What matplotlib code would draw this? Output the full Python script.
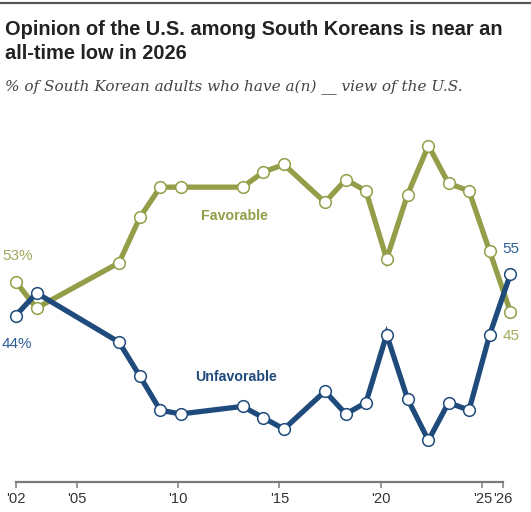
import matplotlib
matplotlib.use("Agg")
import matplotlib.pyplot as plt
from matplotlib.lines import Line2D

# ---- data ----
years = [2002, 2003, 2007, 2008, 2009, 2010, 2013, 2014, 2015, 2017,
         2018, 2019, 2020, 2021, 2022, 2023, 2024, 2025, 2026]
# survey timing within each year (fraction of year), as placed on the chart
survey_offset = [0.0, 0.03, 0.09, 0.12, 0.12, 0.13, 0.18, 0.20, 0.22, 0.24,
                 0.27, 0.26, 0.28, 0.31, 0.34, 0.33, 0.34, 0.36, 0.38]
favorable = [53, 46, 58, 70, 78, 78, 78, 82, 84, 74, 80, 77, 59, 76, 89, 79, 77, 61, 45]
unfavorable = [44, 50, 37, 28, 19, 18, 20, 17, 14, 24, 18, 21, 39, 22, 11, 21, 19, 39, 55]
tick_years = [2002, 2005, 2010, 2015, 2020, 2025, 2026]
tick_labels = ["'02", "'05", "'10", "'15", "'20", "'25", "'26"]

title = "Opinion of the U.S. among South Koreans is near an\nall-time low in 2026"
subtitle = "% of South Korean adults who have a(n) __ view of the U.S."

FAV = "#949D48"
UNF = "#1F4A7C"
FAV_TXT = "#A3A85A"
UNF_TXT = "#2E5E96"

W, H = 531, 512
fig = plt.figure(figsize=(W / 100, H / 100), dpi=100)
fig.patch.set_facecolor("white")

# top rule
fig.add_artist(Line2D([0, 1], [1 - 3 / H, 1 - 3 / H], transform=fig.transFigure,
                      color="#555555", linewidth=1.6))

fig.text(5 / W, 1 - 20 / H, title, ha="left", va="top", fontsize=14.4,
         fontweight="bold", color="#222222", family="Liberation Sans",
         linespacing=1.33)
fig.text(5 / W, 1 - 80 / H, subtitle, ha="left", va="top", fontsize=11.0,
         style="italic", color="#444444", family="DejaVu Serif")

left_px, right_px = 15.7, 502.7
bottom_px, top_px = 482, 104
ax = fig.add_axes([left_px / W, (H - bottom_px) / H,
                   (right_px - left_px) / W, (bottom_px - top_px) / H])
ax.set_xlim(2002, 2026)
ax.set_ylim(0, 100)

xs = [y + o for y, o in zip(years, survey_offset)]

ax.plot(xs, favorable, color=FAV, linewidth=3.8, marker="o", markersize=8.4,
        markerfacecolor="white", markeredgecolor=FAV, markeredgewidth=1.1,
        clip_on=False, zorder=3, solid_joinstyle="miter")
ax.plot(xs, unfavorable, color=UNF, linewidth=3.8, marker="o", markersize=8.4,
        markerfacecolor="white", markeredgecolor=UNF, markeredgewidth=1.1,
        clip_on=False, zorder=4, solid_joinstyle="miter")

# series labels
ax.text(2012.8, 70.4, "Favorable", color=FAV, fontsize=10.2, fontweight="bold",
        ha="center", va="center", family="Liberation Sans")
ax.text(2012.85, 27.8, "Unfavorable", color=UNF, fontsize=10.2, fontweight="bold",
        ha="center", va="center", family="Liberation Sans")

# end labels
ax.text(2001.33, favorable[0] + 6.9, f"{favorable[0]}%", color=FAV_TXT, fontsize=11,
        ha="left", va="center", family="Liberation Sans", clip_on=False)
ax.text(2001.33, unfavorable[0] - 7.5, f"{unfavorable[0]}%", color=UNF_TXT, fontsize=11,
        ha="left", va="center", family="Liberation Sans", clip_on=False)
ax.text(2026.0, unfavorable[-1] + 6.6, f"{unfavorable[-1]}", color=UNF_TXT, fontsize=11,
        ha="left", va="center", family="Liberation Sans", clip_on=False)
ax.text(2026.0, favorable[-1] - 6.4, f"{favorable[-1]}", color=FAV_TXT, fontsize=11,
        ha="left", va="center", family="Liberation Sans", clip_on=False)

for s in ["top", "right", "left"]:
    ax.spines[s].set_visible(False)
ax.spines["bottom"].set_color("#7a7a7a")
ax.spines["bottom"].set_linewidth(1.6)
ax.set_yticks([])
ax.set_xticks(tick_years)
ax.set_xticklabels(tick_labels, family="Liberation Sans", fontsize=10.6, color="#333333")
ax.tick_params(axis="x", length=4, width=1.1, color="#7a7a7a", pad=3.5)
ax.set_facecolor("none")

fig.savefig("out.png", dpi=100, facecolor="white")
